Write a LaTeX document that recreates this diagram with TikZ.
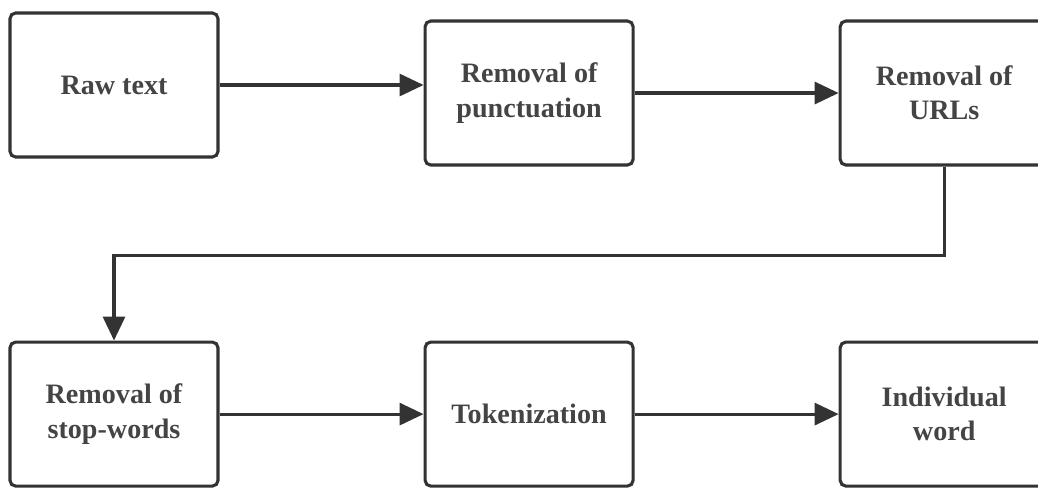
\documentclass[tikz,border=0pt]{standalone}
\usepackage{fontspec}
\setmainfont{Liberation Serif}
\usetikzlibrary{positioning,arrows.meta}

\definecolor{linegray}{HTML}{333333}
\definecolor{textgray}{HTML}{444444}

\tikzset{
  stepbox/.style={draw=linegray, line width=2.2pt, rounded corners=4pt,
    minimum width=5.2cm, minimum height=3.6cm, align=center,
    text=textgray, font=\fontsize{20}{24.5}\selectfont\bfseries},
  flow/.style={draw=linegray, line width=2.2pt,
    -{Triangle[length=0.6cm,width=0.55cm]}}
}

\begin{document}
\begin{tikzpicture}
  \useasboundingbox (0,0) rectangle (25.95,-12.175);
  % top row
  \node[stepbox] (raw) at (2.85,-2.125) {Raw text};
  \node[stepbox, right=5.1cm of raw, yshift=-2mm] (punct) {Removal of\\punctuation};
  \node[stepbox, right=5.1cm of punct] (urls) {Removal of\\URLs};
  % bottom row
  \node[stepbox, below=4.55cm of raw] (stop) {Removal of\\stop-words};
  \node[stepbox, right=5.1cm of stop] (token) {Tokenization};
  \node[stepbox, right=5.1cm of token] (word) {Individual\\word};

  \draw[flow] (raw.east) -- (raw.east -| punct.west);
  \draw[flow] (punct) -- (urls);
  \draw[flow] (urls.south) -- ++(0,-2.225) -| (stop.north);
  \draw[flow] (stop) -- (token);
  \draw[flow] (token) -- (word);
\end{tikzpicture}
\end{document}
